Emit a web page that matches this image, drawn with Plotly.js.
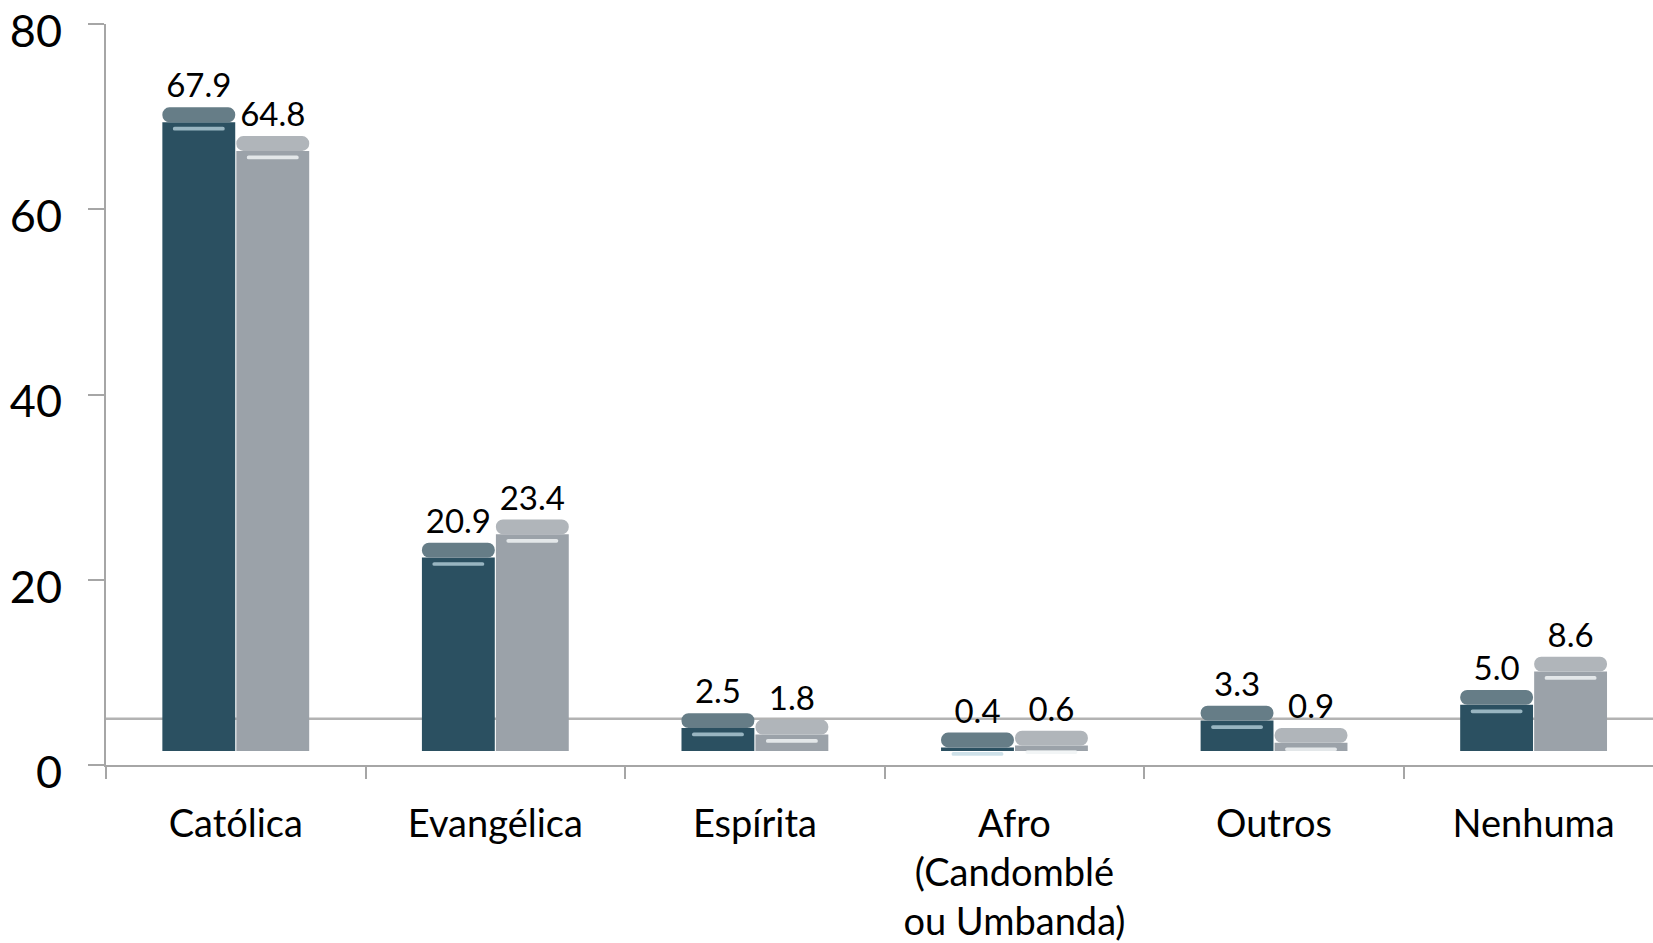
<!DOCTYPE html>
<html>
<head>
<meta charset="utf-8">
<script src="https://cdn.plot.ly/plotly-3.0.1.min.js"></script>
<style>html,body{margin:0;padding:0;background:#fff;}#chart{width:1653px;height:943px;}</style>
</head>
<body>
<div id="chart"></div>
<script>
// ---- data ----
const categories = ["Católica", "Evangélica", "Espírita", "Afro<br>(Candomblé<br>ou Umbanda)", "Outros", "Nenhuma"];
const seriesNames = ["Série 1", "Série 2"];
const series1 = [67.9, 20.9, 2.5, 0.4, 3.3, 5.0];
const series2 = [64.8, 23.4, 1.8, 0.6, 0.9, 8.6];
const yTicks = [0, 20, 40, 60, 80];
const refLine = 5;   // back edge of the 3D floor

// ---- style ----
const FLOOR = 1.5;   // visual floor offset of the 3D columns
const DEPTH = 1.6;   // visual depth of the column top face
const FONT = 'Lato, "Open Sans", "DejaVu Sans", sans-serif';
const colors = ["#2b5061", "#9ba2a9"];
const capColors = ["#667d87", "#b0b5ba"];
const glossColors = ["rgba(190,215,225,0.75)", "rgba(240,243,245,0.85)"];
const axisColor = "#a6a6a6";

function fmt(v){ return v.toFixed(1); }

function makeTraces(vals, i){
  const body = {
    type: "bar", x: categories, y: vals, base: FLOOR,
    name: seriesNames[i], offsetgroup: "g" + i,
    marker: {color: colors[i], line: {width: 0}},
    hoverinfo: "x+name", showlegend: false
  };
  const cap = {
    type: "bar", x: categories, y: vals.map(() => DEPTH), base: vals.map(v => v + FLOOR),
    name: seriesNames[i], offsetgroup: "g" + i,
    marker: {color: capColors[i], line: {width: 0}, cornerradius: 8},
    text: vals.map(fmt), textposition: "outside", constraintext: "none",
    textfont: {family: FONT, size: 33, color: "#000"}, cliponaxis: false,
    hoverinfo: "skip", showlegend: false
  };
  const gloss = {
    type: "bar", x: categories, y: vals.map(() => 0.4), base: vals.map(v => v + FLOOR - 0.9),
    name: seriesNames[i], offsetgroup: "g" + i, width: 0.2,
    marker: {color: glossColors[i], line: {width: 0}, cornerradius: 2},
    hoverinfo: "skip", showlegend: false
  };
  return [body, gloss, cap];
}

const data = [...makeTraces(series1, 0), ...makeTraces(series2, 1)];

const layout = {
  width: 1653, height: 943,
  margin: {l: 106, r: 0, t: 24, b: 178},
  paper_bgcolor: "#fff", plot_bgcolor: "#fff",
  barmode: "group", bargap: 0.43, bargroupgap: 0.015,
  font: {family: FONT, color: "#000"},
  showlegend: false,
  xaxis: {
    type: "category", range: [-0.5, 5.46],
    showline: true, linecolor: axisColor, linewidth: 2,
    ticks: "outside", tickson: "boundaries", ticklen: 12, tickcolor: axisColor, tickwidth: 2,
    ticklabelstandoff: 24, ticklabeloverflow: "allow",
    tickfont: {family: FONT, size: 38, color: "#000"},
    showgrid: false, zeroline: false, fixedrange: true
  },
  yaxis: {
    range: [0, 80], tickvals: yTicks, ticktext: yTicks.map(String),
    showline: true, linecolor: axisColor, linewidth: 2,
    ticks: "outside", ticklen: 16, tickcolor: axisColor, tickwidth: 2,
    ticklabelstandoff: 17, ticklabelshift: 7, ticklabeloverflow: "allow",
    tickfont: {family: FONT, size: 45, color: "#000"},
    showgrid: false, zeroline: false, fixedrange: true
  },
  shapes: [{
    type: "line", xref: "paper", x0: 0, x1: 1, yref: "y", y0: refLine, y1: refLine,
    line: {color: "#b3b3b3", width: 2.5}, layer: "below"
  }]
};

Plotly.newPlot("chart", data, layout, {displayModeBar: false, staticPlot: true});
</script>
</body>
</html>
